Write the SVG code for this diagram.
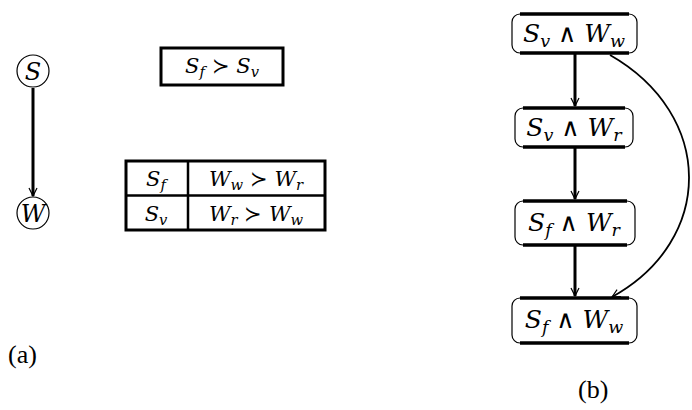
<svg xmlns="http://www.w3.org/2000/svg" width="692" height="410" viewBox="0 0 692 410">
<style>
text{font-family:"Liberation Serif","DejaVu Serif",serif;fill:#000}
.m{font-style:italic;font-family:"DejaVu Serif",serif}
.op{font-style:normal;font-family:"DejaVu Serif",serif}
.r{font-style:normal}
.sub{font-size:70%}
.nd{fill:#fff;stroke:#000;stroke-width:1.2}
.bx{fill:#fff;stroke:#000;stroke-width:3}
.th{stroke:#000;stroke-width:3.5;fill:none}
.ln{stroke:#000;fill:none}
.f26{font-size:26px}
.f24{font-size:21px}
.f28{font-size:25px}
.fc{font-size:24px}
</style>
<defs>
<marker id="ah" markerWidth="10" markerHeight="10" refX="9" refY="5" orient="auto" markerUnits="userSpaceOnUse">
<path d="M1,1 L9,5 L1,9" fill="none" stroke="#000" stroke-width="1.2"/>
</marker>
</defs>
<g id="connectors">
<line class="ln" x1="33" y1="88" x2="33" y2="196" stroke-width="3" marker-end="url(#ah)"/>
<line class="ln" x1="575" y1="53" x2="575" y2="106" stroke-width="3" marker-end="url(#ah)"/>
<line class="ln" x1="575" y1="147" x2="575" y2="199" stroke-width="3" marker-end="url(#ah)"/>
<line class="ln" x1="575" y1="245" x2="575" y2="296" stroke-width="3" marker-end="url(#ah)"/>
<path class="ln" d="M610 55 C715 115 715 240 612 297" stroke-width="1.8" marker-end="url(#ah)"/>
</g>
<g id="nodeS">
<circle class="nd" cx="33" cy="71" r="16"/>
<text class="m fc" x="33" y="80" text-anchor="middle">S</text>
</g>
<g id="nodeW">
<circle class="nd" cx="33" cy="213" r="16"/>
<text class="m fc" x="33" y="222" text-anchor="middle">W</text>
</g>
<g id="pref">
<rect class="bx" x="161" y="48" width="122" height="37"/>
<text class="m f24" x="222" y="73" text-anchor="middle">S<tspan class="sub" dy="4">f</tspan><tspan class="op" dy="-4"> ≻ </tspan>S<tspan class="sub" dy="4">v</tspan></text>
</g>
<g id="cpt">
<rect class="bx" x="126" y="161" width="199" height="69"/>
<line class="ln" x1="126" y1="195.5" x2="325" y2="195.5" stroke-width="2.5"/>
<line class="ln" x1="188" y1="161" x2="188" y2="230" stroke-width="2.5"/>
<text class="m f24" x="156" y="186" text-anchor="middle">S<tspan class="sub" dy="4">f</tspan></text>
<text class="m f24" x="256" y="186" text-anchor="middle">W<tspan class="sub" dy="4">w</tspan><tspan class="op" dy="-4"> ≻ </tspan>W<tspan class="sub" dy="4">r</tspan></text>
<text class="m f24" x="156" y="221" text-anchor="middle">S<tspan class="sub" dy="4">v</tspan></text>
<text class="m f24" x="256" y="221" text-anchor="middle">W<tspan class="sub" dy="4">r</tspan><tspan class="op" dy="-4"> ≻ </tspan>W<tspan class="sub" dy="4">w</tspan></text>
</g>
<g id="b1">
<rect class="nd" x="512" y="14" width="125" height="39" rx="8"/>
<line class="th" x1="520" y1="14" x2="629" y2="14"/>
<line class="th" x1="520" y1="53" x2="629" y2="53"/>
<text class="m f28" x="574" y="42" text-anchor="middle">S<tspan class="sub" dy="5">v</tspan><tspan class="op" dy="-5"> ∧ </tspan>W<tspan class="sub" dy="5">w</tspan></text>
</g>
<g id="b2">
<rect class="nd" x="515" y="108" width="118" height="39" rx="8"/>
<line class="th" x1="523" y1="108" x2="625" y2="108"/>
<line class="th" x1="523" y1="147" x2="625" y2="147"/>
<text class="m f28" x="574" y="136" text-anchor="middle">S<tspan class="sub" dy="5">v</tspan><tspan class="op" dy="-5"> ∧ </tspan>W<tspan class="sub" dy="5">r</tspan></text>
</g>
<g id="b3">
<rect class="nd" x="515" y="201" width="120" height="44" rx="8"/>
<line class="th" x1="523" y1="201" x2="627" y2="201"/>
<line class="th" x1="523" y1="245" x2="627" y2="245"/>
<text class="m f28" x="574" y="231" text-anchor="middle">S<tspan class="sub" dy="5">f</tspan><tspan class="op" dy="-5"> ∧ </tspan>W<tspan class="sub" dy="5">r</tspan></text>
</g>
<g id="b4">
<rect class="nd" x="512" y="298" width="125" height="45" rx="8"/>
<line class="th" x1="520" y1="298" x2="629" y2="298"/>
<line class="th" x1="520" y1="343" x2="629" y2="343"/>
<text class="m f28" x="574" y="328" text-anchor="middle">S<tspan class="sub" dy="5">f</tspan><tspan class="op" dy="-5"> ∧ </tspan>W<tspan class="sub" dy="5">w</tspan></text>
</g>
<text class="r f26" x="8" y="363">(a)</text>
<text class="r f26" x="578" y="398">(b)</text>
</svg>
